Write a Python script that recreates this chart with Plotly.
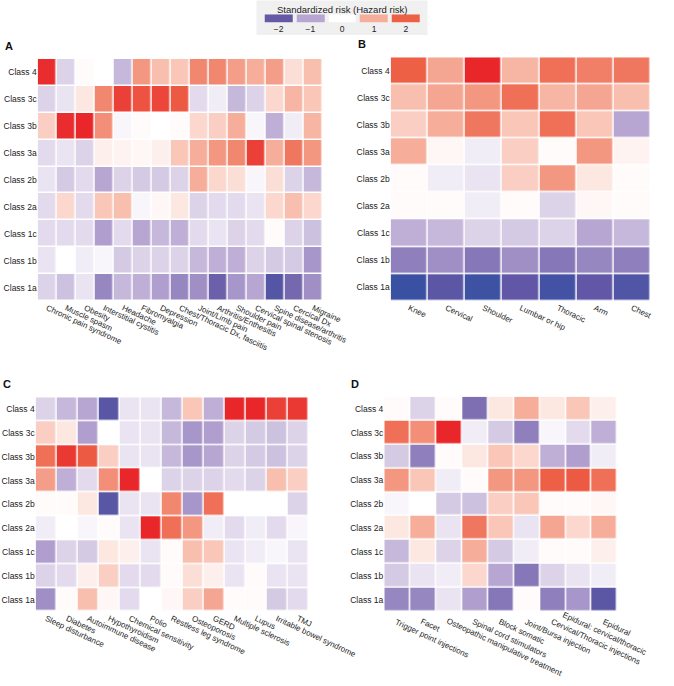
import plotly.graph_objects as go

# Row labels shared by all four panels (top to bottom)
classes = ["Class 4", "Class 3c", "Class 3b", "Class 3a", "Class 2b",
           "Class 2a", "Class 1c", "Class 1b", "Class 1a"]

# Panel A - pain diagnoses
cols_a = ["Chronic pain syndrome", "Muscle spasm", "Obesity", "Interstitial cystitis",
          "Headache", "Fibromyalgia", "Depression", "Chest/Thoracic Dx, fasciitis",
          "Joint/Limb pain", "Arthritis/Enthesitis", "Shoulder pain",
          "Cervical spinal stenosis", "Spine disease/arthritis", "Cercical Dx", "Migraine"]
z_a = [
    [2.8, -0.5, 0.05, 0.0, -0.8, 1.3, 0.8, 0.7, 1.5, 1.5, 1.2, 1.0, 1.2, 0.4, 0.8],
    [-0.5, -0.3, 0.3, 1.5, 2.5, 2.2, 2.4, 2.1, -0.4, -0.2, -0.8, -0.5, 0.5, 0.9, 0.7],
    [0.6, 2.8, 2.9, 1.4, -0.1, 0.05, 0.0, 0.05, 0.5, 0.6, 1.0, -0.1, -0.9, -0.2, 0.9],
    [-0.4, -0.3, -0.5, 0.2, 0.15, 0.1, 0.2, 0.7, 1.0, 1.3, 1.5, 2.5, 1.0, 1.7, 1.3],
    [-0.3, -0.6, -0.4, -1.0, -0.5, -0.6, -0.6, -0.5, 1.0, 0.5, 0.4, -0.1, 0.4, -0.5, -0.8],
    [-0.4, 0.5, -0.4, 0.7, 0.8, -0.1, 0.1, 0.3, -0.5, -0.4, -0.4, -0.3, 0.5, 0.8, 0.5],
    [-0.4, -0.4, -0.4, -1.1, -0.4, -1.0, -0.8, -0.9, -0.4, -0.3, -0.5, -0.4, 0.05, -0.5, -0.7],
    [-0.3, 0.0, -0.2, -0.1, -0.6, -0.5, -0.5, -0.5, -0.8, -0.9, -0.9, -0.5, -0.6, -0.6, -1.2],
    [-0.5, -0.7, -0.3, -1.4, -0.8, -0.9, -1.1, -1.4, -1.3, -1.9, -1.2, -1.0, -2.4, -1.8, -1.3],
]

# Panel B - pain location
cols_b = ["Knee", "Cervical", "Shoulder", "Lumbar or hip", "Thoracic", "Arm", "Chest"]
z_b = [
    [2.0, 1.1, 2.9, 0.9, 1.8, 1.6, 1.7],
    [0.8, 1.1, 1.3, 1.8, 0.9, 1.1, 0.8],
    [0.6, 1.0, 1.7, 0.7, 1.8, 0.7, -1.0],
    [1.0, 0.1, -0.2, 0.6, 0.05, 1.3, 0.15],
    [0.05, -0.2, -0.3, 0.6, 1.3, 0.3, 0.05],
    [0.05, 0.05, -0.2, 0.05, -0.5, 0.1, 0.05],
    [-0.9, -0.8, -0.5, -0.6, -0.5, -1.0, -0.8],
    [-1.5, -1.3, -1.6, -1.3, -1.6, -1.4, -1.5],
    [-3.0, -2.2, -2.9, -2.1, -2.8, -2.1, -2.5],
]

# Panel C - comorbidities
cols_c = ["Sleep disturbance", "Diabetes", "Autoimmune disease", "Hypothyroidism",
          "Chemical sensitivity", "Polio", "Restless leg syndrome", "Osteoporosis",
          "GERD", "Multiple sclerosis", "Lupus", "Irritable bowel syndrome", "TMJ"]
z_c = [
    [-0.5, -0.8, -1.0, -2.3, -0.3, -0.3, -0.8, 0.7, -0.9, 2.9, 2.9, 2.5, 2.6],
    [0.6, 0.3, -1.1, 0.0, -0.3, -0.3, -0.8, -1.2, -1.1, -0.5, -0.6, -0.7, -0.5],
    [1.8, 2.6, 2.1, 0.6, -0.3, -0.3, -0.8, -1.2, -1.0, -0.5, -0.6, -0.7, -0.5],
    [1.2, -0.9, -0.4, 1.4, 2.9, 0.0, -0.5, -0.5, -0.5, -0.4, -0.5, 0.8, 0.6],
    [0.05, 0.05, 0.3, -2.3, -0.3, -0.3, 1.5, -1.2, 1.8, 0.0, 0.0, 0.0, -0.5],
    [-0.2, 0.0, -0.1, 0.05, -0.3, 2.9, 1.8, 1.3, -0.2, -0.4, -0.2, -0.4, -0.1],
    [-1.1, -0.5, -0.6, 0.3, 0.2, -0.3, 0.05, 0.8, 0.7, -0.3, -0.2, -0.1, -0.3],
    [-0.5, -0.4, 0.2, 0.6, -0.4, -0.4, 0.05, 0.4, 0.2, -0.3, 0.05, -0.3, -0.3],
    [-1.3, 0.05, 0.8, 0.1, -0.4, 0.0, 0.1, 0.6, 1.1, 0.05, 0.05, -0.6, -0.4],
]

# Panel D - procedures
cols_d = ["Trigger point injections", "Facet", "Osteopathic manipulative treatment",
          "Spinal cord stimulators", "Block somatic", "Joint/Bursa injection",
          "Cervical/Thoracic injections", "Epidural: cervical/thoracic", "Epidural"]
z_d = [
    [0.05, -0.5, 0.05, -1.7, 0.3, 1.0, 0.3, 0.7, 0.2],
    [1.8, 1.4, 2.9, -0.2, -0.6, -1.5, -0.1, -0.4, -0.9],
    [-0.6, -1.5, 0.05, 0.3, 0.7, 0.5, -0.9, -1.1, -0.2],
    [1.3, 0.7, -0.2, 0.05, 1.3, 1.3, 2.0, 2.1, 1.8],
    [-0.1, 0.0, -0.6, -0.7, 0.6, 0.7, 0.05, 0.05, 0.1],
    [0.3, 1.0, -0.3, 1.7, 0.7, -0.3, 1.1, 0.5, 1.0],
    [-0.8, 0.3, -0.5, 1.0, -0.6, -0.2, 0.05, 0.05, 0.2],
    [-0.6, -0.3, -0.2, 0.5, -1.0, -1.6, -0.5, -0.3, -0.2],
    [-1.4, -1.4, -0.3, -1.1, -1.6, 0.05, -1.5, -1.2, -2.2],
]

# Legend swatches
legend_vals = [-2, -1, 0, 1, 2]

colorscale = [
    [0.0, "#3a51a3"],
    [1 / 6, "#6558a6"],
    [2 / 6, "#b8a6d2"],
    [0.5, "#ffffff"],
    [4 / 6, "#f6ae9a"],
    [5 / 6, "#ee6046"],
    [1.0, "#e81f27"],
]

W, H = 674, 686


def px_x(a, b):
    return [a / W, b / W]


def px_y(top, bottom):
    return [1 - bottom / H, 1 - top / H]


family = "Liberation Sans, Arial, sans-serif"
font = dict(family=family, size=8.5, color="#222")
xfont = dict(family=family, size=8, color="#222")
axis_common = dict(showgrid=False, zeroline=False, ticks="", showline=False,
                   automargin=False)

fig = go.Figure()

panels = [
    ("A", cols_a, z_a, px_x(37.7, 322.7), px_y(59, 301)),
    ("B", cols_b, z_b, px_x(390.7, 650.7), px_y(57.3, 301)),
    ("C", cols_c, z_c, px_x(35.7, 308.3), px_y(397.3, 611.7)),
    ("D", cols_d, z_d, px_x(384.3, 648.7), px_y(396.7, 611.7)),
]

for i, (letter, cols, z, xd, yd) in enumerate(panels):
    n = i + 1
    xa = "x" if n == 1 else f"x{n}"
    ya = "y" if n == 1 else f"y{n}"
    fig.add_trace(go.Heatmap(
        z=z, x=cols, y=classes,
        colorscale=colorscale, zmin=-3, zmax=3,
        xgap=1.5, ygap=1.5, showscale=False,
        xaxis=xa, yaxis=ya,
    ))
    key = "" if n == 1 else str(n)
    fig.layout["xaxis" + key] = dict(domain=xd, anchor=ya, tickangle=25,
                                     tickfont=xfont, showticklabels=(letter != "D"),
                                     **axis_common)
    fig.layout["yaxis" + key] = dict(domain=yd, anchor=xa, autorange="reversed",
                                     tickfont=font, **axis_common)
    fig.add_annotation(
        text=f"<b>{letter}</b>", xref="paper", yref="paper",
        x=xd[0] - 35 / W, y=yd[1] + 5 / H, xanchor="left", yanchor="bottom",
        showarrow=False, font=dict(family=family, size=11, color="#111"),
    )

# Panel D labels as annotations so the long one can be nudged up-left (as in the original)
d_bottom = px_y(396.7, 611.7)[0]
for name in cols_d:
    long_one = name == "Epidural: cervical/thoracic"
    fig.add_annotation(
        text=name, x=name, xref="x4", y=d_bottom, yref="paper",
        xanchor="left", yanchor="top", textangle=25, showarrow=False,
        xshift=-19 if long_one else -5, yshift=3 if long_one else -4,
        font=xfont, borderpad=0,
    )

# Colour legend drawn as a tiny heatmap
fig.add_trace(go.Heatmap(
    z=[legend_vals], x=[str(v).replace("-", "\u2212") for v in legend_vals], y=[""],
    colorscale=colorscale, zmin=-3, zmax=3, xgap=4, showscale=False,
    xaxis="x5", yaxis="y5", hoverinfo="skip",
))
fig.update_layout(
    xaxis5=dict(domain=px_x(262.7, 421.7), anchor="y5", tickfont=font, **axis_common),
    yaxis5=dict(domain=px_y(14.3, 22.7), anchor="x5", showticklabels=False, **axis_common),
)
fig.add_shape(type="rect", xref="paper", yref="paper",
              x0=256.5 / W, x1=427.5 / W, y0=1 - 35 / H, y1=1 - 0.5 / H,
              fillcolor="#f0f0f0", line=dict(width=0), layer="below")
fig.add_annotation(text="Standardized risk (Hazard risk)", xref="paper", yref="paper",
                   x=342 / W, y=1 - 2 / H, xanchor="center", yanchor="top",
                   showarrow=False, font=dict(family=family, size=9.5, color="#222"))

fig.update_layout(
    width=W, height=H,
    margin=dict(l=0, r=0, t=0, b=0),
    paper_bgcolor="white", plot_bgcolor="white",
    font=font,
)

# drop the browser's default 8px page margin so the figure sits at the window corner
fig.write_html("out.html", config={"displayModeBar": False},
               post_script="document.body.style.margin = '0';")
